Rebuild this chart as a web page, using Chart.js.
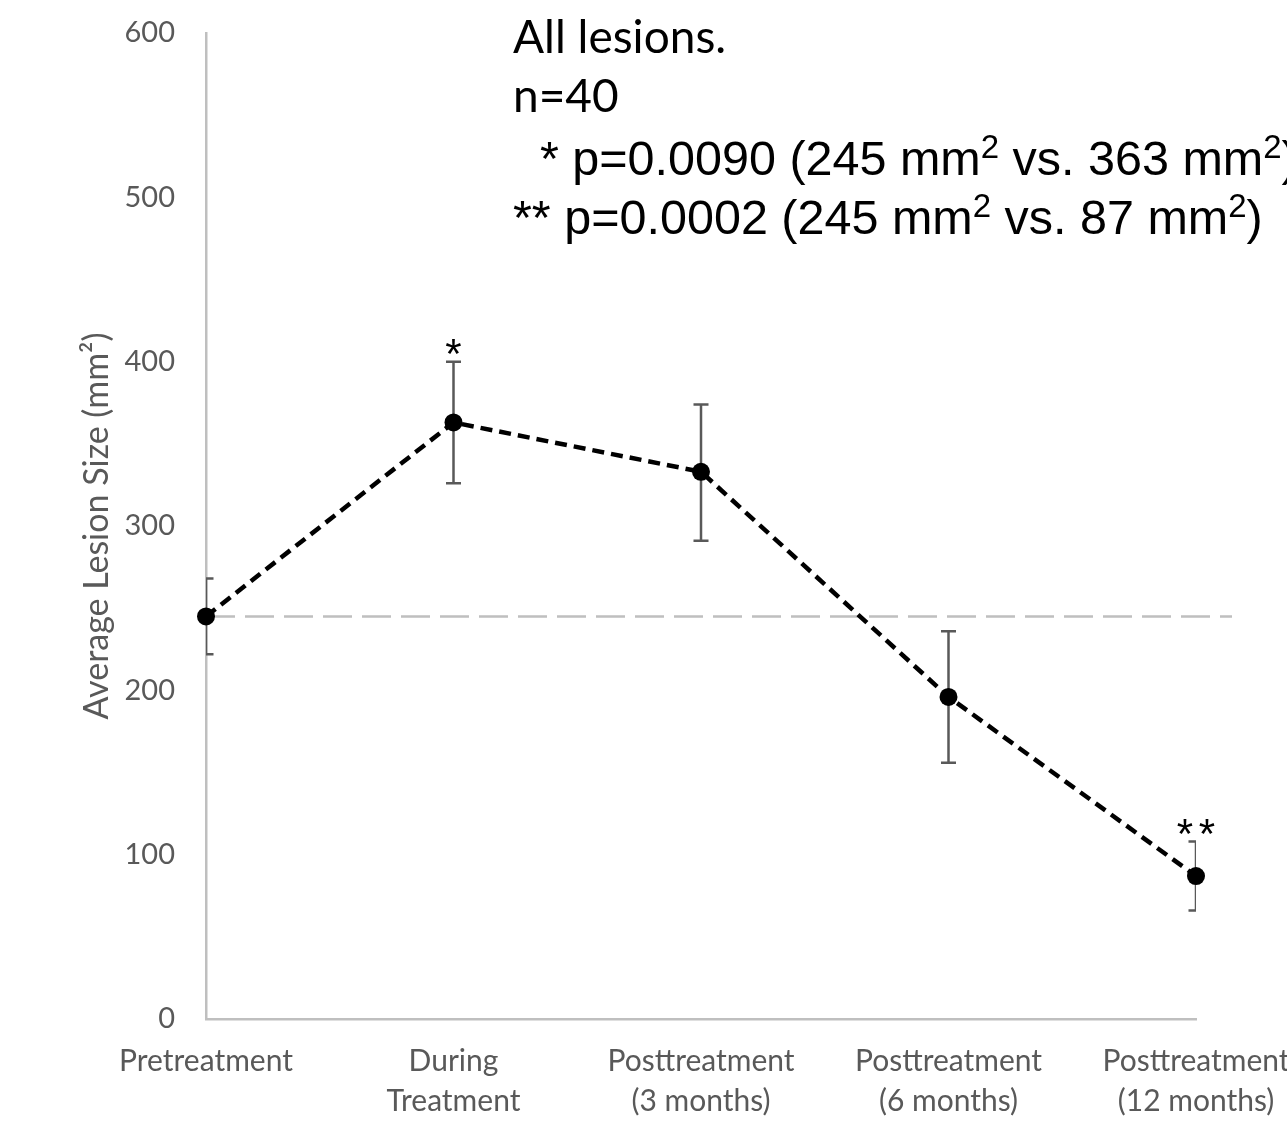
<!DOCTYPE html>
<html>
<head>
<meta charset="utf-8">
<script src="https://cdn.jsdelivr.net/npm/chart.js@4.4.1/dist/chart.umd.min.js"></script>
<style>
  html, body { margin: 0; padding: 0; background: #ffffff; }
  #wrap { width: 1287px; height: 1121px; position: relative; }
</style>
</head>
<body>
<div id="wrap"><canvas id="lesionChart"></canvas></div>
<script>
// --- Data ---
const categories = [
    ['Pretreatment'],
    ['During', 'Treatment'],
    ['Posttreatment', '(3 months)'],
    ['Posttreatment', '(6 months)'],
    ['Posttreatment', '(12 months)']
];
const meanSize = [245, 363, 333, 196, 87];
const errUpper = [268, 400, 374, 236, 108];
const errLower = [222, 326, 291, 156, 66];
const markers = ['', '*', '', '', '**'];
const baselineValue = 245;
const yTicks = { min: 0, max: 600, step: 100 };

const GREY = '#595959';
const AXIS_GREY = '#BFBFBF';

// error bars + baseline reference line, drawn under the points
const errorBars = {
    id: 'errorBars',
    beforeDatasetsDraw(chart) {
        const { ctx, chartArea, scales: { x, y } } = chart;
        ctx.save();

        // grey dashed baseline (runs a bit past the axis end)
        const by = y.getPixelForValue(baselineValue);
        ctx.strokeStyle = AXIS_GREY;
        ctx.lineWidth = 2.5;
        ctx.setLineDash([29, 10]);
        ctx.beginPath();
        ctx.moveTo(chartArea.left, by);
        ctx.lineTo(chartArea.right + 36, by);
        ctx.stroke();
        ctx.setLineDash([]);

        ctx.beginPath();
        ctx.rect(chartArea.left, 0, chartArea.right - chartArea.left, chart.height);
        ctx.clip();
        ctx.strokeStyle = GREY;
        ctx.lineWidth = 2.5;
        meanSize.forEach((v, i) => {
            const px = x.getPixelForValue(i);
            const top = y.getPixelForValue(errUpper[i]);
            const bot = y.getPixelForValue(errLower[i]);
            ctx.beginPath();
            ctx.moveTo(px, top); ctx.lineTo(px, bot);
            ctx.moveTo(px - 7.5, top); ctx.lineTo(px + 7.5, top);
            ctx.moveTo(px - 7.5, bot); ctx.lineTo(px + 7.5, bot);
            ctx.stroke();
        });
        ctx.restore();
    },
    afterDatasetsDraw(chart) {
        const { ctx, scales: { x, y } } = chart;
        ctx.save();
        ctx.fillStyle = '#000';
        ctx.font = '42px "Liberation Sans", Arial, sans-serif';
        ctx.textAlign = 'center';
        ctx.textBaseline = 'alphabetic';
        markers.forEach((m, i) => {
            if (!m) return;
            const px = x.getPixelForValue(i);
            const top = y.getPixelForValue(errUpper[i]);
            const n = m.length;
            for (let k = 0; k < n; k++) {
                ctx.fillText('*', px + (k - (n - 1) / 2) * 22, top + 6);
            }
        });
        ctx.restore();
    }
};

// text block in the top of the plot
function drawRuns(ctx, runs, x0, y0, size) {
    let xx = x0;
    runs.forEach(r => {
        const sup = r.sup;
        ctx.font = (sup ? Math.round(size * 0.68) : size) + 'px "Liberation Sans", Arial, sans-serif';
        ctx.fillText(r.t, xx, sup ? y0 - size * 0.36 : y0);
        xx += ctx.measureText(r.t).width;
    });
}

const noteBlock = {
    id: 'noteBlock',
    afterDraw(chart) {
        const { ctx } = chart;
        ctx.save();
        ctx.fillStyle = '#000';
        ctx.textAlign = 'left';
        ctx.textBaseline = 'alphabetic';
        ctx.font = '46px Lato, "Open Sans", sans-serif';
        ctx.fillText('All lesions.', 513, 53);
        ctx.fillText('n=40', 513, 112);

        drawRuns(ctx, [
            { t: '  * p=0.0090 (245 mm' }, { t: '2', sup: true },
            { t: ' vs. 363 mm' }, { t: '2', sup: true }, { t: ')' }
        ], 513, 175, 48.5);
        drawRuns(ctx, [
            { t: '** p=0.0002 (245 mm' }, { t: '2', sup: true },
            { t: ' vs. 87 mm' }, { t: '2', sup: true }, { t: ')' }
        ], 513, 234, 48.5);
        ctx.restore();
    }
};

const tickFont = { family: 'Lato, "Open Sans", sans-serif', size: 30, lineHeight: 1.33 };

// let the layout padding alone decide where the plot area sits
function noScalePadding(scale) {
    scale.paddingTop = 0;
    scale.paddingBottom = 0;
    scale.paddingLeft = 0;
    scale.paddingRight = 0;
}

new Chart(document.getElementById('lesionChart'), {
    type: 'line',
    data: {
        labels: categories,
        datasets: [{
            data: meanSize,
            borderColor: '#000',
            borderWidth: 4.5,
            borderDash: [12, 7],
            pointRadius: 9,
            pointHoverRadius: 9,
            pointBackgroundColor: '#000',
            pointBorderColor: '#000',
            pointBorderWidth: 0,
            tension: 0,
            fill: false,
            clip: false
        }]
    },
    options: {
        responsive: true,
        maintainAspectRatio: false,
        animation: false,
        layout: { padding: { top: 33, right: 91, left: 0, bottom: 0 } },
        plugins: {
            legend: { display: false },
            tooltip: { enabled: false }
        },
        scales: {
            x: {
                offset: false,
                grid: { display: false, drawTicks: false },
                border: { display: true, color: AXIS_GREY, width: 2.5 },
                ticks: {
                    color: GREY,
                    font: tickFont,
                    padding: 22,
                    maxRotation: 0,
                    autoSkip: false
                },
                afterFit(scale) { scale.height = 102; noScalePadding(scale); }
            },
            y: {
                min: yTicks.min,
                max: yTicks.max,
                grid: { display: false, drawTicks: false },
                border: { display: true, color: AXIS_GREY, width: 2.5 },
                ticks: {
                    stepSize: yTicks.step,
                    color: GREY,
                    font: { family: 'Lato, "Open Sans", sans-serif', size: 29, lineHeight: 1.2 },
                    padding: 31
                },
                title: {
                    display: true,
                    text: 'Average Lesion Size (mm²)',
                    color: GREY,
                    font: { family: 'Lato, "Open Sans", sans-serif', size: 34, lineHeight: 1.2 },
                    padding: { top: 77, bottom: 0 }
                },
                afterFit(scale) { scale.width = 206; noScalePadding(scale); }
            }
        }
    },
    plugins: [errorBars, noteBlock]
});
</script>
</body>
</html>
